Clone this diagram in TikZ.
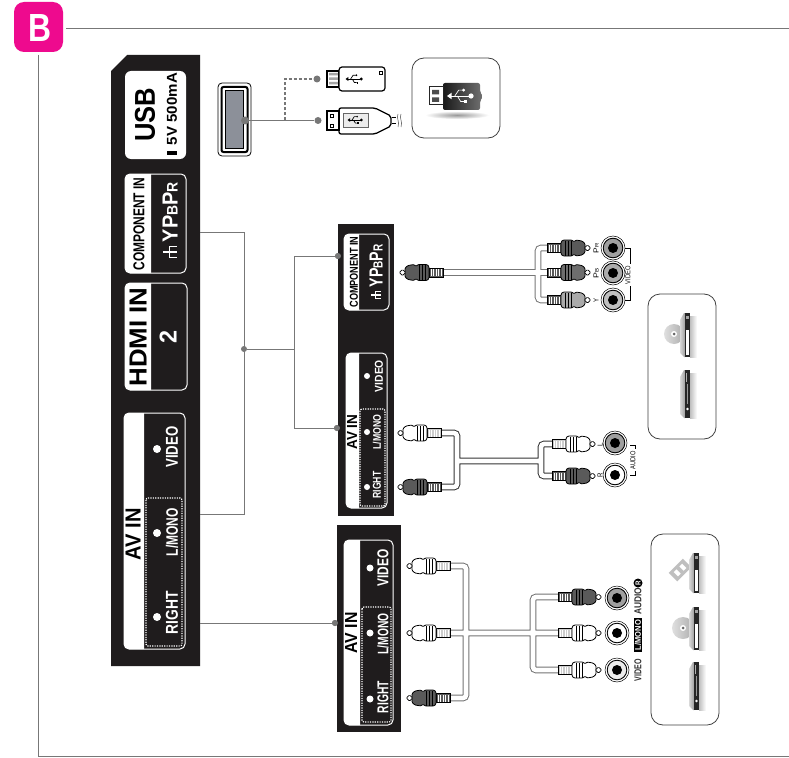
\documentclass[tikz,border=0pt]{standalone}
\usepackage{fontspec}
\setmainfont{Liberation Sans}
\definecolor{frame}{HTML}{777777}
\definecolor{pinkb}{HTML}{EE0A8E}
\definecolor{panelk}{HTML}{1F1C1D}
\definecolor{plugdark}{HTML}{5A5A5A}
\definecolor{plugmid}{HTML}{6E6E6E}
\definecolor{pluglight}{HTML}{AAAAAA}
\definecolor{portgray}{HTML}{8C9099}
\tikzset{
  lbl/.style={inner sep=0pt,outer sep=0pt,rotate=90,font=\bfseries},
  thin lbl/.style={inner sep=0pt,outer sep=0pt,rotate=90},
  wire/.style={draw=frame,line width=1pt},
  dotnode/.style={circle,fill=frame,inner sep=0pt,minimum size=7pt},
  cable/.style={draw=#1,line width=1pt,double=white,double distance=4.6pt,rounded corners=3pt},
  cable/.default=black!80,
  devbox/.style={draw=black!75,line width=0.8pt,rounded corners=12pt,fill=white},
  dottedbox/.style={draw=white,line width=1.2pt,dash pattern=on 1.2pt off 1.2pt,rounded corners=2pt},
}
\newcommand\tn[7]{\node[lbl,text=#4] (#1) at (#2,#3) {\resizebox{#5pt}{#6pt}{#7}};}
\newcommand\tm[7]{\node[thin lbl,text=#4] (#1) at (#2,#3) {\resizebox{#5pt}{#6pt}{#7}};}
\newcommand\yptext{YP{\fontsize{7}{7}\selectfont B}P{\fontsize{7}{7}\selectfont R}}
\newcommand\portbox[5]{%
  \draw[white,line width=1pt,rounded corners=5pt,fill=panelk] (#1,#2) rectangle (#3,#4);
  \fill[white] (#5,#2) [rounded corners=5pt] -- (#1,#2) -- (#1,#4) [sharp corners] -- (#5,#4) -- cycle;}
\newcommand\compsym[3]{%
  \begin{scope}[shift={(#1,#2)},scale=#3]
    \draw[white,line width=1.2pt] (-.9,0) -- (.9,0);
    \draw[white,line width=1.2pt] (.9,-.7) -- (-.1,-.7) -- (-.1,.7) -- (.9,.7);
  \end{scope}}
\newcommand\rcaplug[5]{%
  \begin{scope}[shift={(#1,#2)},rotate=#3]
    \filldraw[fill=#5,draw=black,line width=.5pt] (0,-4.5) rectangle (14,4.5);
    \foreach \hx in {2,4.5,7,9.5,12} \draw[white,line width=.6pt] (\hx,-3.5) -- (\hx,3.5);
    \filldraw[fill=#4,draw=black,line width=.8pt,rounded corners=1pt] (14,-6) -- (16,-8) -- (25,-8) -- (27,-6) -- (29,-8) -- (35,-7) -- (38,-4.5) -- (38,4.5) -- (35,7) -- (29,8) -- (27,6) -- (25,8) -- (16,8) -- (14,6) -- cycle;
    \foreach \hx in {18,21,24} \draw[black,line width=.7pt] (\hx,-7.5) -- (\hx,7.5);
    \filldraw[fill=white,draw=black,line width=.7pt,rounded corners=1.8pt] (38,-2.4) -- (43,-2.4) -- (43,2.4) -- (38,2.4) -- cycle;
  \end{scope}}
\newcommand\rcasocket[3]{%
  \filldraw[fill=white,draw=black,line width=.5pt] (#1,#2) circle (12);
  \filldraw[fill=#3,draw=black,line width=.9pt] (#1,#2) circle (9.8);
  \fill[black] (#1,#2) circle (5);}
\newcommand\usbsym[4]{%
  \begin{scope}[shift={(#1,#2)},scale=#3]
    \draw[#4,line width=.8pt] (-.8,0) -- (.75,0);
    \fill[#4] (-1,0) -- (-.65,-.25) -- (-.65,.25) -- cycle;
    \fill[#4] (.85,0) circle (.2);
    \draw[#4,line width=.7pt] (-.4,0) -- (-.1,-.45) -- (.2,-.45);
    \fill[#4] (.28,-.45) circle (.12);
    \draw[#4,line width=.7pt] (-.2,0) -- (.05,.42) -- (.3,.42);
    \fill[#4] (.3,.3) rectangle (.52,.54);
  \end{scope}}
\newcommand\devbody[3]{%
  \shade[left color=gray!50,right color=white] (#1+10,#2+3) rectangle (#1+17,#3);
  \shade[left color=gray!30,right color=gray!75] (#1,#2+7) -- (#1+4,#2) -- (#1+5,#2) -- (#1+5,#3) -- (#1+4,#3) -- (#1,#3-4) -- cycle;
  \fill[black!85] (#1+5,#2) rectangle (#1+10,#3);}
\newcommand\devdisc[3]{%
  \fill[white] (#1+6,#2+17) rectangle (#1+9,#3-2);
  \fill[gray!70] (#1+6,#2+3) rectangle (#1+9,#2+6);}
\newcommand\devplay[3]{%
  \fill[gray!60] (#1+6,#2+3) rectangle (#1+7,#2+12);
  \fill[white] (#1+7.5,#3-9) circle (1.3);
  \draw[gray!80,line width=.5pt] (#1+7.5,#2+14) -- (#1+7.5,#3-14);}
\newcommand\discshape[3]{%
  \shade[left color=gray!25,right color=gray!65] (#1,#2) circle (#3);
  \fill[white] (#1,#2) circle (3);
  \fill[black!60] (#1,#2) circle (1.5);}
\begin{document}
\begin{tikzpicture}[x=1pt,y=-1pt]
\useasboundingbox (0,0) rectangle (789,757);
\fill[white] (0,0) rectangle (789,757);
% frame
\coordinate (frameTopL) at (66,29);
\coordinate (frameTopR) at (789,29);
\coordinate (frameLeftT) at (38,55);
\coordinate (frameLeftB) at (38,756);
\coordinate (frameBotR) at (789,756);
\draw[wire] (frameTopL) -- (frameTopR);
\draw[wire] (frameLeftT) -- (frameLeftB) -- (frameBotR);
\fill[pinkb,rounded corners=10pt] (14,2) rectangle (63,52);
\node[inner sep=0pt,font=\bfseries,text=white] (badge) at (40,27.5) {\resizebox{23pt}{27pt}{B}};
% main panel
\fill[panelk] (127,55) -- (200,55) -- (200,666) -- (111,666) -- (111,71) -- cycle;
\fill[white,rounded corners=6pt] (125,71) rectangle (186,159);
\tn{usbT}{145}{115}{black}{54}{20}{USB}
\tn{usbV}{172}{109}{black}{72}{10}{5V 500mA}
\fill[black] (167,151) rectangle (177,155);
\portbox{125}{174}{186}{273}{151}
\tn{compT}{139}{224}{black}{93}{11}{COMPONENT IN}
\tn{compY}{170}{212}{white}{60}{15}{\yptext}
\compsym{170}{252}{8}
\portbox{125}{283}{187}{390}{151}
\tn{hdmiT}{138}{337}{black}{99}{17}{HDMI IN}
\tn{hdmiN}{168}{337}{white}{13}{17}{2}
\portbox{124}{413}{185}{649}{144}
\tn{avT}{133}{534}{black}{52}{15}{AV IN}
\draw[dottedbox] (146,498) rectangle (182,646);
\fill[white] (157,449) circle (4) (157,533) circle (4) (157,617) circle (4);
\tn{vidT}{172}{447}{white}{41}{12}{VIDEO}
\tn{monoT}{172}{532}{white}{48}{12}{L/MONO}
\tn{rightT}{172}{613}{white}{43}{12}{RIGHT}
% usb port
\draw[black,line width=.8pt,rounded corners=4pt,fill=white] (218,83) rectangle (251,156);
\draw[black,line width=2pt,rounded corners=2pt] (221.5,87) rectangle (247.5,152);
\filldraw[fill=portgray,draw=black,line width=1pt] (225,91) rectangle (243,148);
\node[dotnode,minimum size=8pt] (portDot) at (245,120.5) {};
\node[dotnode] (stickDot) at (317,79) {};
\node[dotnode] (plugDot) at (318,120.5) {};
\coordinate (usbBranch) at (285,120.5);
\coordinate (usbBranchTop) at (285,79);
\draw[wire] (portDot) -- (plugDot);
\draw[draw=frame,line width=1.2pt,dash pattern=on 3pt off 2pt] (usbBranch) -- (usbBranchTop) -- (stickDot);
% usb stick
\filldraw[fill=white,draw=black,line width=1.2pt] (327,71) rectangle (339,87);
\fill[gray!70] (329,73) rectangle (338,75.5) (329,77.5) rectangle (338,80) (329,82) rectangle (338,84.5);
\draw[black,line width=1.2pt,rounded corners=3pt,fill=white] (339,67) rectangle (385,91);
\usbsym{354}{79}{8.5}{black}
\draw[black,line width=.4pt] (379,71) rectangle (382,74);
% usb cable plug
\draw[black,line width=1.3pt,rounded corners=2pt,fill=white] (339,108) -- (375,108) -- (383,112) -- (391,116) -- (391,126) -- (383,130) -- (375,134) -- (339,134) -- cycle;
\filldraw[fill=white,draw=black,line width=1.3pt] (327,111) rectangle (339,130);
\draw[black,line width=.6pt] (330,114) rectangle (333,117) (330,124) rectangle (333,127);
\filldraw[fill=gray!15,draw=black!60,line width=.6pt] (343,113) rectangle (368,127);
\usbsym{355}{120}{7.5}{black}
\draw[black,line width=1pt] (392,118) -- (396,118) (392,124) -- (396,124);
\draw[black!70,line width=.5pt] (398,114) .. controls (396,118) and (400,122) .. (398,127);
\draw[black!70,line width=.5pt] (401,114) .. controls (399,118) and (403,122) .. (401,127);
% usb icon box
\draw[devbox] (412,58) rectangle (500,138);
\shade[inner color=gray!80,outer color=white] (457,115) ellipse (32 and 4);
\shade[left color=black!90,right color=black!55,rounded corners=2pt] (443,83) -- (480,83) -- (480,92) -- (483,96.5) -- (480,101) -- (480,110) -- (443,110) -- cycle;
\filldraw[fill=white,draw=black!85,line width=1pt] (429,87) rectangle (443,105);
\fill[black!70] (432,90) rectangle (439,94.5) (432,97.5) rectangle (439,102);
\usbsym{460}{96}{13}{white}
% connectors
\coordinate (mainComp) at (200,232);
\coordinate (mainAv) at (200,514);
\coordinate (mainAv2) at (200,623);
\coordinate (bend1) at (244,232);
\coordinate (bend2) at (244,514);
\node[dotnode,minimum size=6pt] (midDot) at (244,349) {};
\coordinate (split) at (294,349);
\coordinate (splitT) at (294,256);
\coordinate (splitB) at (294,428);
\node[dotnode,minimum size=6pt] (compDot) at (338,256) {};
\node[dotnode,minimum size=6pt] (avDot) at (337,428) {};
\node[dotnode,minimum size=6pt] (av3Dot) at (335,623) {};
\draw[wire] (mainComp) -- (bend1) -- (bend2) -- (mainAv);
\draw[wire] (midDot) -- (split);
\draw[wire] (compDot) -- (splitT) -- (splitB) -- (avDot);
\draw[wire] (mainAv2) -- (av3Dot);
% panel 2
\fill[panelk] (338,224) rectangle (394,516);
\fill[frame] (compDot) circle (3) (avDot) circle (3);
\portbox{344}{234}{389}{310}{359}
\tn{comp2T}{354}{272}{black}{71}{8}{COMPONENT IN}
\tn{comp2Y}{376}{266}{white}{43}{13}{\yptext}
\compsym{376}{295}{5.5}
\portbox{346}{353}{387}{508}{359}
\tn{av2T}{352}{432}{black}{35}{10}{AV IN}
\draw[dottedbox] (360,409) rectangle (385,506);
\fill[white] (367,376) circle (3) (367,432) circle (3) (367,487) circle (3);
\tn{vid2T}{379}{376}{white}{32}{8}{VIDEO}
\tn{mono2T}{377}{432}{white}{35}{8}{L/MONO}
\tn{right2T}{377}{485}{white}{27}{8}{RIGHT}
% panel 3
\fill[panelk] (337,525) rectangle (401,732);
\fill[frame] (av3Dot) circle (3);
\portbox{344}{540}{393}{725}{360}
\tn{av3T}{351}{633}{black}{41}{12}{AV IN}
\draw[dottedbox] (362,607) rectangle (391,722);
\fill[white] (370,568) circle (3.5) (370,633) circle (3.5) (370,699) circle (3.5);
\tn{vid3T}{383}{568}{white}{37}{11}{VIDEO}
\tn{mono3T}{383}{634}{white}{41}{11}{L/MONO}
\tn{right3T}{383}{697}{white}{32}{11}{RIGHT}
% component cable
\draw[cable=frame] (443,272.5) -- (547,272.5) (547,248) -- (538,248) -- (538,300) -- (547,300);
\rcaplug{443}{272.5}{180}{plugdark}{plugdark}
\rcaplug{547}{248}{0}{plugdark}{plugdark}
\rcaplug{547}{272.5}{0}{plugmid}{plugdark}
\rcaplug{547}{300}{0}{pluglight}{plugdark}
\rcasocket{613}{248}{gray!75}
\rcasocket{613}{273}{gray!65}
\rcasocket{613}{300}{gray!50}
\tm{prL}{596}{248}{black}{10}{5}{P{\fontsize{7}{7}\selectfont R}}
\tm{pbL}{596}{273}{black}{10}{5}{P{\fontsize{7}{7}\selectfont B}}
\tm{yL}{596}{300}{black}{4}{5}{Y}
\tm{vidL}{628}{275}{black}{18}{5}{VIDEO}
\draw[black,line width=.5pt] (625,248) -- (630,248) -- (630,264) (630,286) -- (630,300) -- (625,300);
% audio cable
\draw[cable] (441,433) -- (457,433) -- (457,487) -- (441,487) (457,461) -- (541,461) (552,444) -- (541,444) -- (541,476) -- (552,476);
\rcaplug{441}{433}{180}{white}{white!60!gray}
\rcaplug{441}{487}{180}{plugdark}{plugdark}
\rcaplug{552}{444}{0}{white}{white!60!gray}
\rcaplug{552}{476}{0}{plugdark}{plugdark}
\rcasocket{615}{443}{gray!75}
\rcasocket{615}{475}{white}
\tm{lL}{600}{445}{black}{3.5}{5}{L}
\tm{rL}{600}{475}{black}{4.5}{5}{R}
\tm{audL}{633}{460}{black}{18}{5}{AUDIO}
\draw[black,line width=.5pt] (630,445) -- (635,445) -- (635,449) (630,475) -- (635,475) -- (635,471);
% av cable
\draw[cable=black!55] (450,566) -- (466,566) -- (466,698) -- (450,698) (450,633) -- (558,633) (558,597) -- (533,597) -- (533,670) -- (558,670);
\rcaplug{450}{566}{180}{white}{white!60!gray}
\rcaplug{450}{633}{180}{white}{white!60!gray}
\rcaplug{450}{698}{180}{plugdark}{plugdark}
\rcaplug{558}{597}{0}{plugdark}{plugdark}
\rcaplug{558}{633}{0}{white}{white!60!gray}
\rcaplug{558}{670}{0}{white}{white!60!gray}
\rcasocket{617}{598}{gray!75}
\rcasocket{617}{633}{white}
\rcasocket{617}{670}{white!85!gray}
\tn{vid4L}{638}{670}{black!80}{22}{7}{VIDEO}
\fill[black] (634,618) rectangle (642,652);
\tn{mono4L}{638}{635}{white}{30}{6}{L/MONO}
\tn{aud4L}{638}{601}{black!80}{27}{7}{AUDIO}
\fill[black] (638,583) circle (4.5);
\tn{r4L}{638}{583}{white}{4.5}{5}{R}
% device box 1
\draw[devbox] (648,294) rectangle (716,439);
\discshape{674}{334}{10}
\devbody{680}{313}{357}
\devdisc{680}{313}{357}
\devbody{680}{370}{418}
\devplay{680}{370}{418}
% device box 2
\draw[devbox] (651,534) rectangle (719,725);
\fill[gray!50,rotate around={45:(680,570)}] (670,564) rectangle (690,576);
\fill[white,rotate around={45:(680,570)}] (674,567) rectangle (678,573) (682,567) rectangle (686,573);
\devbody{689}{553}{593}
\devdisc{689}{553}{593}
\discshape{683}{628}{11}
\devbody{689}{607}{650}
\devdisc{689}{607}{650}
\devbody{689}{662}{710}
\devplay{689}{662}{710}
\end{tikzpicture}
\end{document}
